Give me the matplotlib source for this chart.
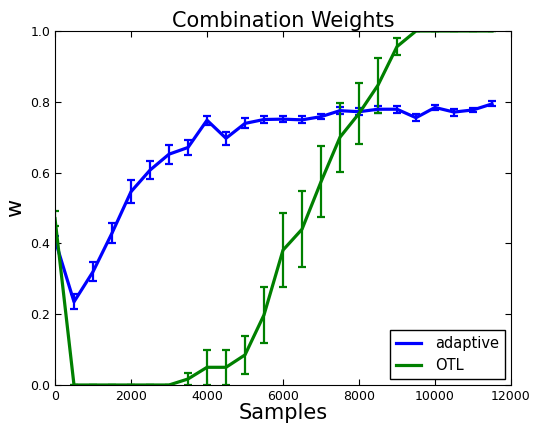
import numpy as np
import matplotlib
matplotlib.use('Agg')
import matplotlib.pyplot as plt

samples = np.arange(0, 12000, 500)

adaptive = [0.41, 0.235, 0.32, 0.429, 0.546, 0.607, 0.652, 0.671, 0.748, 0.697,
            0.739, 0.750, 0.751, 0.749, 0.758, 0.775, 0.772, 0.779, 0.779, 0.755,
            0.784, 0.771, 0.777, 0.794]
adaptive_err = [0.01, 0.021, 0.027, 0.028, 0.033, 0.025, 0.027, 0.02, 0.013, 0.019,
                0.014, 0.01, 0.008, 0.01, 0.008, 0.01, 0.01, 0.01, 0.01, 0.01,
                0.006, 0.01, 0.006, 0.007]

otl = [0.47, 0.0, 0.0, 0.0, 0.0, 0.0, 0.0, 0.017, 0.05, 0.05,
       0.085, 0.198, 0.381, 0.44, 0.574, 0.70, 0.767, 0.847, 0.956, 1.0,
       1.0, 1.0, 1.0, 1.0]
otl_err = [0.022, 0.0, 0.0, 0.0, 0.0, 0.0, 0.0, 0.017, 0.05, 0.05,
           0.053, 0.08, 0.104, 0.108, 0.1, 0.097, 0.087, 0.078, 0.025, 0.0,
           0.0, 0.0, 0.0, 0.0]

fig = plt.figure(figsize=(5.39, 4.23), dpi=100)
ax = fig.add_axes([55 / 539, 38 / 423, 456 / 539, 354 / 423])

ax.errorbar(samples, adaptive, yerr=adaptive_err, color='b', lw=2.3,
            elinewidth=1.6, capsize=3, capthick=1.6, ecolor='b', label='adaptive')
ax.errorbar(samples, otl, yerr=otl_err, color='g', lw=2.3,
            elinewidth=1.6, capsize=3, capthick=1.6, ecolor='g', label='OTL')

ax.set_xlim(0, 12000)
ax.set_ylim(0, 1.0)
ax.set_xticks(np.arange(0, 12001, 2000))
ax.set_yticks(np.arange(0, 1.01, 0.2))
ax.set_yticklabels(['0.0', '0.2', '0.4', '0.6', '0.8', '1.0'])
ax.tick_params(direction='in', top=True, right=True, labelsize=9, length=4)
ax.set_title('Combination Weights', fontsize=15, pad=3)
ax.set_xlabel('Samples', fontsize=15, labelpad=0)
ax.set_ylabel('w', fontsize=16)

handles, labels = ax.get_legend_handles_labels()
handles = [h[0] for h in handles]
leg = ax.legend(handles, labels, loc='lower right', fontsize=10.5, fancybox=False,
                framealpha=1, edgecolor='k', borderaxespad=0.4, handlelength=1.7,
                handletextpad=1.0)
leg.get_frame().set_linewidth(1)

fig.savefig('out.png', dpi=100)
